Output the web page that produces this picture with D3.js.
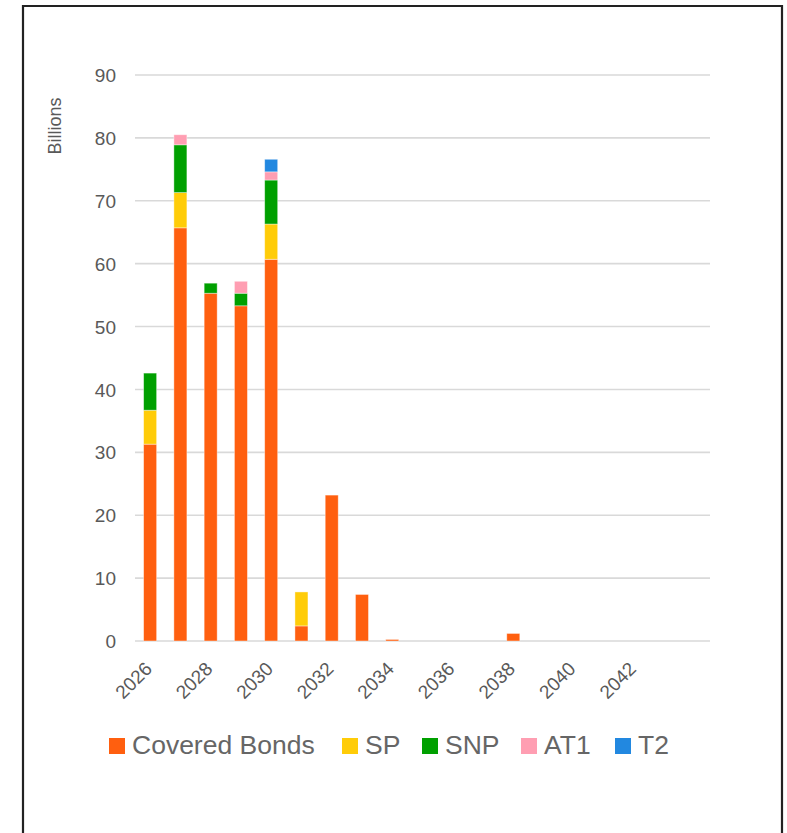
<!DOCTYPE html>
<html><head><meta charset="utf-8">
<script src="https://cdn.jsdelivr.net/npm/d3@7"></script>
<style>html,body{margin:0;padding:0;background:#fff;}svg{display:block;}</style>
</head><body>
<script>
const years = ["2026","2027","2028","2029","2030","2031","2032","2033","2034","2035","2036","2037","2038","2039","2040","2041","2042","2043","2044"];
const seriesNames = ["Covered Bonds","SP","SNP","AT1","T2"];
const seriesColors = ["#ff5f0f","#ffcc08","#00a000","#ff9eb2","#2288e0"];
const coveredBonds = [31.3,65.7,55.3,53.3,60.7,2.4,23.2,7.4,0.25,0,0,0,1.2,0,0,0,0,0,0];
const sp           = [5.4,5.6,0,0,5.6,5.4,0,0,0,0,0,0,0,0,0,0,0,0,0];
const snp          = [5.9,7.6,1.6,2.0,7.0,0,0,0,0,0,0,0,0,0,0,0,0,0,0];
const at1          = [0,1.6,0,1.9,1.3,0,0,0,0,0,0,0,0,0,0,0,0,0,0];
const t2           = [0,0,0,0,2.0,0,0,0,0,0,0,0,0,0,0,0,0,0,0];
const yTicks = [0,10,20,30,40,50,60,70,80,90];
const xTickLabels = ["2026","2028","2030","2032","2034","2036","2038","2040","2042"];

const W = 787, H = 833;
const svg = d3.select("body").append("svg").attr("width", W).attr("height", H);
svg.append("rect").attr("x",0).attr("y",0).attr("width",W).attr("height",H).attr("fill","#fff");
// frame
svg.append("path").attr("d", `M23,${H+5} V6 H782 V${H+5}`).attr("fill","none").attr("stroke","#222").attr("stroke-width",2.2);

const font = "'Liberation Sans', Arial, sans-serif";
const x = d3.scaleBand().domain(years).range([135, 710]).paddingInner(0.57).paddingOuter(0.285);
const y = d3.scaleLinear().domain([0, 90]).range([641, 75]);

const data = years.map((yr, i) => ({year: yr, "Covered Bonds": coveredBonds[i], "SP": sp[i], "SNP": snp[i], "AT1": at1[i], "T2": t2[i]}));
const stack = d3.stack().keys(seriesNames)(data);

// gridlines
svg.append("g").selectAll("line").data(yTicks).join("line")
  .attr("x1",135).attr("x2",710).attr("y1",d=>y(d)).attr("y2",d=>y(d))
  .attr("stroke","#d9d9d9").attr("stroke-width",1.6);

// y axis labels
const yAxis = d3.axisLeft(y).tickValues(yTicks).tickSize(0).tickPadding(0).tickFormat(d3.format("d"));
const gy = svg.append("g").attr("transform","translate(116,0)").call(yAxis);
gy.select(".domain").remove();
gy.selectAll("text").attr("font-family",font).attr("font-size",19).attr("fill","#595959").attr("dy","0.35em");

// bars
const color = d3.scaleOrdinal().domain(seriesNames).range(seriesColors);
svg.append("g").selectAll("g").data(stack).join("g").attr("fill", d => color(d.key))
  .selectAll("rect").data(d => d.filter(p => p[1] - p[0] > 0)).join("rect")
  .attr("x", d => x(d.data.year)).attr("width", x.bandwidth())
  .attr("y", d => y(d[1])).attr("height", d => Math.max(1, y(d[0]) - y(d[1])))
  .attr("stroke","#fff").attr("stroke-opacity",0.5).attr("stroke-width",0.8);

// x axis labels
const xAxis = d3.axisBottom(x).tickValues(xTickLabels).tickSize(0).tickPadding(0);
const gx = svg.append("g").attr("transform","translate(0,650)").call(xAxis);
gx.select(".domain").remove();
gx.selectAll("text").attr("font-family",font).attr("font-size",19).attr("fill","#595959")
  .attr("text-anchor","end").attr("dy",null).attr("y",null)
  .attr("transform","translate(3,20) rotate(-45)");

// y title
svg.append("text").attr("transform","translate(61,126) rotate(-90)").attr("text-anchor","middle")
  .attr("font-family",font).attr("font-size",18).attr("fill","#595959").text("Billions");

// legend
const legendX = [109, 342, 422, 521, 615];
const lg = svg.append("g").selectAll("g").data(seriesNames).join("g")
  .attr("transform",(d,i)=>`translate(${legendX[i]},738)`);
lg.append("rect").attr("width",16).attr("height",16).attr("fill",d=>color(d));
lg.append("text").attr("x",23).attr("y",16).attr("font-family",font).attr("font-size",26.5).attr("fill","#666").text(d=>d);
</script>
</body></html>
